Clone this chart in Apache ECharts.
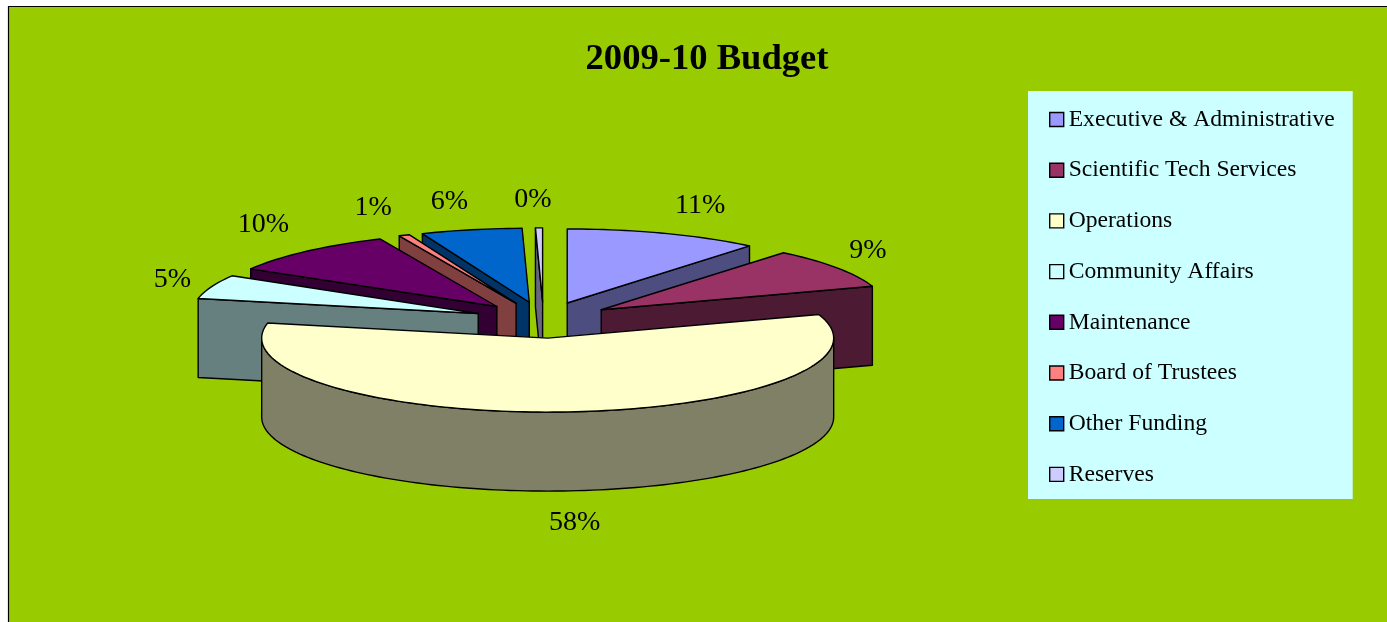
<!DOCTYPE html>
<html>
<head>
<meta charset="utf-8">
<title>2009-10 Budget</title>
<style>
  html, body { margin: 0; padding: 0; background: #fff; overflow: hidden; }
  #chart { width: 1387px; height: 622px; }
</style>
<script src="https://cdn.jsdelivr.net/npm/echarts@6/dist/echarts.min.js"></script>
</head>
<body>
<div id="chart"></div>
<script>
// Budget shares by department, in percent. Reserves is a sliver that rounds to 0%.
const categories = [
  'Executive & Administrative',
  'Scientific Tech Services',
  'Operations',
  'Community Affairs',
  'Maintenance',
  'Board of Trustees',
  'Other Funding',
  'Reserves'
];
const shares = [11, 8.85, 58.4, 5.25, 9.8, 0.6, 5.7, 0.4];
const topColors = ['#9999FF', '#993366', '#FFFFCC', '#CCFFFF', '#660066', '#FF8080', '#0066CC', '#CCCCFF'];
const wallColors = ['#4D4D80', '#4D1A33', '#808066', '#668080', '#330033', '#804040', '#003366', '#666680'];

// Nudges that move each percent label clear of its slice.
const labelNudges = [[36, -28], [31, -17], [10, 32], [-39, -7], [-43, -27], [-31, -28], [-22, -28], [-6, -28]];

// Back-to-front painting order for the tilted pie.
const paintOrder = [0, 1, 7, 6, 5, 4, 3, 2];

// Pie projection.
const PIE = { cx: 543.5, cy: 320, rx: 286, ry: 74, depth: 79, explode: 70 };
const FONT = '"Liberation Serif", "Times New Roman", serif';
const total = shares.reduce((a, b) => a + b, 0);
const RAD = Math.PI / 180;

const cumulative = [];
shares.reduce((sum, v, i) => { cumulative[i] = sum; return sum + v; }, 0);

// Point on the pie's rim seen from above, for a clockwise angle from 12 o'clock.
function rim(apex, deg, drop) {
  return [
    apex[0] + PIE.rx * Math.sin(deg * RAD),
    apex[1] - PIE.ry * Math.cos(deg * RAD) + (drop || 0)
  ];
}

function arcPoints(apex, from, to, drop) {
  const pts = [];
  const steps = Math.max(2, Math.ceil((to - from) / 1.5));
  for (let i = 0; i <= steps; i++) pts.push(rim(apex, from + (to - from) * i / steps, drop));
  return pts;
}

function poly(points, fill) {
  return {
    type: 'polygon',
    shape: { points },
    style: { fill, stroke: '#000', lineWidth: 1.4, lineJoin: 'round' }
  };
}

function sliceRenderer(index) {
  return function (params, api) {
    const value = api.value(0);
    const start = cumulative[index] / total * 360;
    const end = start + value / total * 360;
    const mid = (start + end) / 2;
    const apex = [
      PIE.cx + PIE.explode * Math.sin(mid * RAD),
      PIE.cy - PIE.explode * (PIE.ry / PIE.rx) * Math.cos(mid * RAD)
    ];
    const lowApex = [apex[0], apex[1] + PIE.depth];
    const children = [];

    // Radial walls that face the viewer.
    [start, end].forEach((deg, k) => {
      const s = Math.sin(deg * RAD);
      if ((k === 0 && s < 0) || (k === 1 && s > 0)) {
        const a = rim(apex, deg);
        const b = rim(apex, deg, PIE.depth);
        children.push(poly([apex, a, b, lowApex], wallColors[index]));
      }
    });

    // Curved outer wall along the front half of the rim.
    const frontFrom = Math.max(start, 90);
    const frontTo = Math.min(end, 270);
    if (frontTo > frontFrom) {
      const upper = arcPoints(apex, frontFrom, frontTo, 0);
      const lower = arcPoints(apex, frontFrom, frontTo, PIE.depth).reverse();
      children.push(poly(upper.concat(lower), wallColors[index]));
    }

    // Top face.
    children.push(poly([apex].concat(arcPoints(apex, start, end, 0)), topColors[index]));

    // Percent label.
    const outer = rim(apex, mid, Math.cos(mid * RAD) < 0 ? PIE.depth : 0);
    children.push({
      type: 'text',
      style: {
        text: Math.round(value / total * 100) + '%',
        x: outer[0] + labelNudges[index][0],
        y: outer[1] + labelNudges[index][1],
        fill: '#000',
        fontSize: 28,
        fontFamily: FONT,
        align: 'center',
        verticalAlign: 'middle'
      }
    });
    return { type: 'group', children };
  };
}

const chart = echarts.init(document.getElementById('chart'), null, { renderer: 'canvas' });
chart.setOption({
  animation: false,
  backgroundColor: '#FFFFFF',
  title: {
    text: '2009-10 Budget',
    left: 702,
    top: 36,
    textAlign: 'center',
    textStyle: { fontFamily: FONT, fontWeight: 'bold', fontSize: 36.6, color: '#000' }
  },
  legend: {
    orient: 'vertical',
    left: 1028,
    top: 91,
    padding: [15, 18, 11, 21],
    backgroundColor: '#CCFFFF',
    data: categories,
    icon: 'rect',
    itemWidth: 14,
    itemHeight: 14,
    itemGap: 23.7,
    selectedMode: false,
    itemStyle: { borderColor: '#000', borderWidth: 1.4 },
    textStyle: { fontFamily: FONT, fontSize: 23.6, color: '#000', lineHeight: 27 }
  },
  graphic: [{
    type: 'rect',
    z: -1,
    silent: true,
    shape: { x: 8.5, y: 6.5, width: 1400, height: 640 },
    style: { fill: '#99CC00', stroke: '#000', lineWidth: 1.2 }
  }],
  series: paintOrder.map(i => ({
    type: 'custom',
    name: categories[i],
    coordinateSystem: 'none',
    silent: true,
    itemStyle: { color: topColors[i] },
    renderItem: sliceRenderer(i),
    data: [[shares[i]]]
  }))
});
</script>
</body>
</html>
